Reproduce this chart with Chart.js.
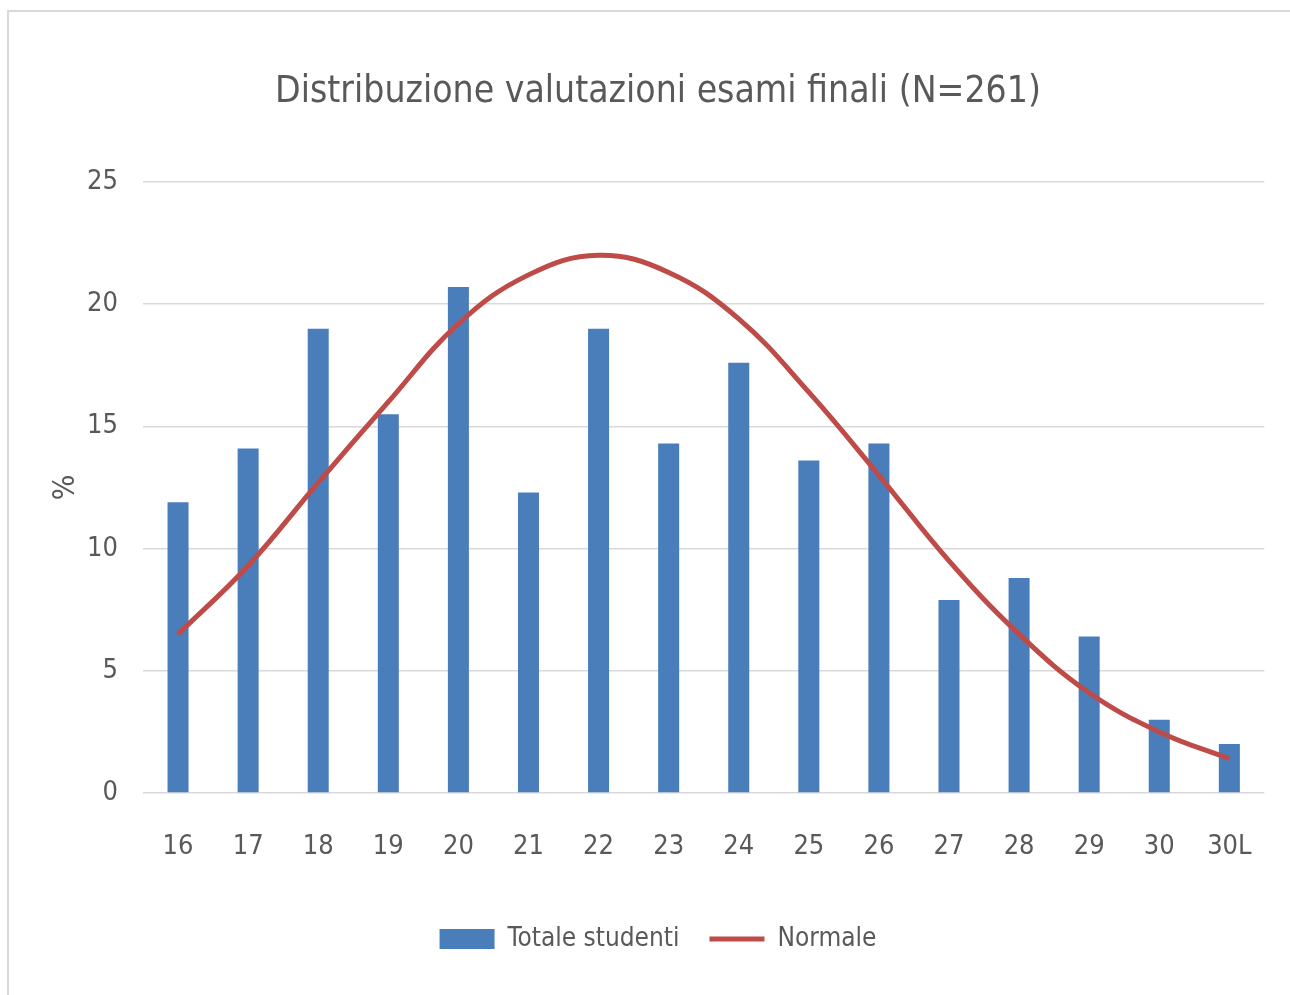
<!DOCTYPE html>
<html>
<head>
<meta charset="utf-8">
<script src="https://cdn.jsdelivr.net/npm/chart.js@4"></script>
<style>
  html, body { margin: 0; padding: 0; background: #fff; }
  #wrap { position: relative; width: 1290px; height: 995px; }
  #frame { position: absolute; left: 7px; top: 10px; right: 0; bottom: 0;
           border-top: 2px solid #d9d9d9; border-left: 2px solid #d9d9d9; pointer-events: none; }
</style>
</head>
<body>
<div id="wrap">
  <canvas id="chart"></canvas>
  <div id="frame"></div>
</div>
<script>
const labels = ['16', '17', '18', '19', '20', '21', '22', '23', '24', '25', '26', '27', '28', '29', '30', '30L'];
const totaleStudenti = [11.9, 14.1, 19.0, 15.5, 20.7, 12.3, 19.0, 14.3, 17.6, 13.6, 14.3, 7.9, 8.8, 6.4, 3.0, 2.0];
const normale = [6.5, 9.3, 12.7, 16.0, 19.2, 21.2, 22.0, 21.3, 19.4, 16.4, 13.0, 9.5, 6.5, 4.1, 2.5, 1.4];

const fontFam = '"Liberation Sans Narrow", "DejaVu Sans Condensed", "Liberation Sans", sans-serif';
const txt = '#595959';

const ctx = document.getElementById('chart').getContext('2d');
const chart = new Chart(ctx, {
  type: 'bar',
  data: {
    labels: labels,
    datasets: [{
      label: 'Totale studenti',
      data: totaleStudenti,
      backgroundColor: '#4a7ebb',
      borderWidth: 0,
      barPercentage: 0.3,
      categoryPercentage: 1,
      pointStyle: 'rect',
      order: 1
    }, {
      type: 'line',
      label: 'Normale',
      data: normale,
      borderColor: '#be4b48',
      backgroundColor: '#be4b48',
      borderWidth: 5,
      tension: 0.4,
      pointRadius: 0,
      pointStyle: 'line',
      fill: false,
      order: 0
    }]
  },
  options: {
    responsive: true,
    maintainAspectRatio: false,
    animation: false,
    layout: { padding: { left: 40, right: 14, top: 10, bottom: 33 } },
    plugins: {
      tooltip: { enabled: false },
      title: {
        display: true,
        text: 'Distribuzione valutazioni esami finali (N=261)',
        color: txt,
        font: { family: fontFam, size: 37, weight: 'normal' },
        padding: { top: 60, bottom: 67.6 }
      },
      legend: {
        position: 'bottom',
        labels: {
          color: txt,
          font: { family: fontFam, size: 26 },
          usePointStyle: true,
          pointStyleWidth: 55,
          boxHeight: 20,
          padding: 30,
          sort: (a, b) => a.datasetIndex - b.datasetIndex
        }
      }
    },
    scales: {
      x: {
        grid: { display: false, drawTicks: false },
        border: { display: false },
        ticks: { color: txt, font: { family: fontFam, size: 27 }, padding: 38 },
        afterFit: (scale) => { scale.height = 103; }
      },
      y: {
        min: 0,
        max: 25,
        ticks: { stepSize: 5, color: txt, font: { family: fontFam, size: 27 }, padding: 25 },
        grid: { color: '#d9d9d9', lineWidth: 1.5, drawTicks: false },
        border: { display: false },
        title: { display: true, text: '%', color: txt, font: { family: fontFam, size: 30 }, padding: 8 },
        afterFit: (scale) => { scale.width = 103; }
      }
    }
  }
});
</script>
</body>
</html>
